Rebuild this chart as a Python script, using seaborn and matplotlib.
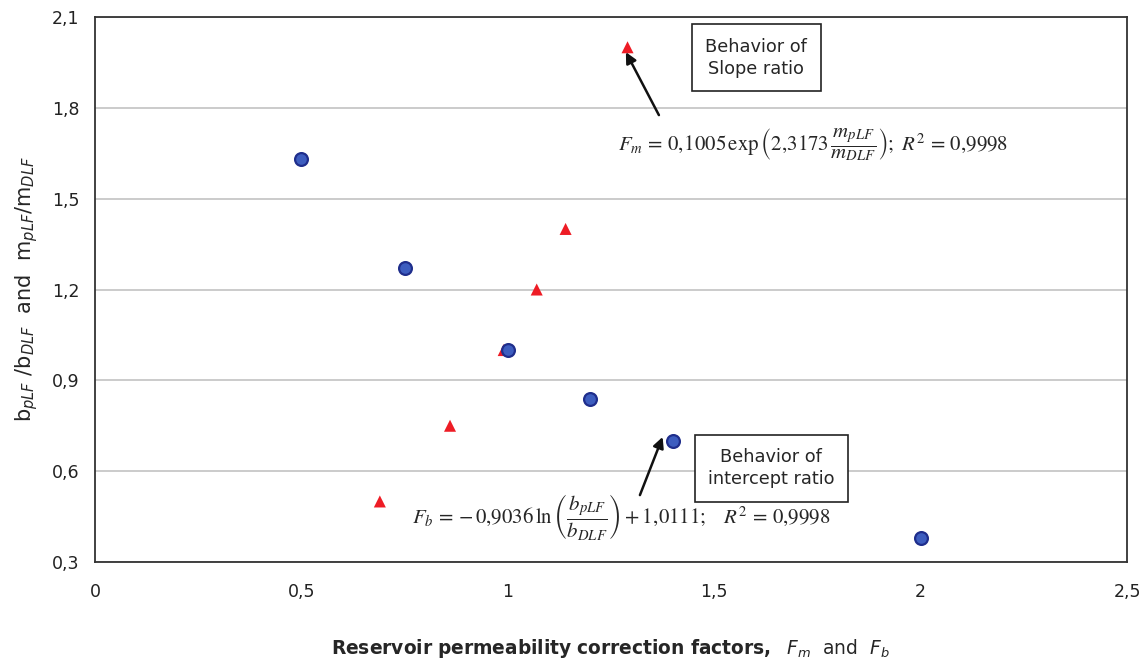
import matplotlib
matplotlib.use("Agg")
import matplotlib.pyplot as plt
import seaborn as sns
import pandas as pd

# Data
fb_x = [0.50, 0.75, 1.00, 1.20, 1.40, 2.00]      # intercept ratio correction factor F_b
fb_y = [1.63, 1.27, 1.00, 0.84, 0.70, 0.38]      # b_pLF / b_DLF
fm_x = [0.69, 0.86, 0.99, 1.07, 1.14, 1.29]      # slope ratio correction factor F_m
fm_y = [0.50, 0.75, 1.00, 1.20, 1.40, 2.00]      # m_pLF / m_DLF

x_ticks = [0, 0.5, 1, 1.5, 2, 2.5]
x_tick_labels = ["0", "0,5", "1", "1,5", "2", "2,5"]
y_ticks = [0.3, 0.6, 0.9, 1.2, 1.5, 1.8, 2.1]
y_tick_labels = ["0,3", "0,6", "0,9", "1,2", "1,5", "1,8", "2,1"]

sns.set_style("white")
plt.rcParams["font.family"] = ["DejaVu Sans"]

fig = plt.figure(figsize=(11.39, 6.64), dpi=100)
ax = fig.add_axes([0.0834, 0.1536, 0.9061, 0.8208])

df_b = pd.DataFrame({"x": fb_x, "y": fb_y})
df_m = pd.DataFrame({"x": fm_x, "y": fm_y})

sns.scatterplot(data=df_m, x="x", y="y", ax=ax, marker="^", s=75,
                color="#EE1C25", edgecolor="none", zorder=3)
sns.scatterplot(data=df_b, x="x", y="y", ax=ax, marker="o", s=85,
                color="#3D5DBF", edgecolor="#1F2E8C", linewidth=1.6, zorder=4)

ax.set_xlim(0, 2.5)
ax.set_ylim(0.3, 2.1)
ax.set_xticks(x_ticks)
ax.set_xticklabels(x_tick_labels)
ax.set_yticks(y_ticks)
ax.set_yticklabels(y_tick_labels)
ax.tick_params(axis="both", direction="out", length=6, width=1, labelsize=12.5,
               colors="#222222")
ax.tick_params(axis="y", pad=5)
ax.tick_params(axis="x", pad=9)
ax.grid(axis="y", color="#BDBDBD", linewidth=1.1)
ax.set_axisbelow(True)
for side in ["left", "bottom", "right", "top"]:
    ax.spines[side].set_visible(True)
    ax.spines[side].set_color("#333333")
    ax.spines[side].set_linewidth(1.3)

ax.set_ylabel(r"b$_{pLF}$ /b$_{DLF}$  and  m$_{pLF}$/m$_{DLF}$", fontsize=15,
              labelpad=9, math_fontfamily="dejavusans")
ax.set_xlabel(r"$\mathbf{Reservoir\ permeability\ correction\ factors,}\ \ F_m\ \ \mathrm{and}\ \ F_b$",
              fontsize=13.4, labelpad=26, math_fontfamily="dejavusans")

# Text boxes
box = dict(boxstyle="square,pad=0.75", facecolor="white", edgecolor="#222222", linewidth=1.2)
ax.text(1.602, 1.965, "Behavior of\nSlope ratio", ha="center", va="center",
        fontsize=12.8, bbox=box, linespacing=1.3)
ax.text(1.638, 0.610, "Behavior of\nintercept ratio", ha="center", va="center",
        fontsize=12.8, bbox=box, linespacing=1.3)

# Arrows
arrow = dict(arrowstyle="-|>", color="#111111", lw=1.8, mutation_scale=16,
             shrinkA=0, shrinkB=0)
ax.annotate("", xy=(1.286, 1.984), xytext=(1.366, 1.776), arrowprops=arrow)
ax.annotate("", xy=(1.375, 0.713), xytext=(1.320, 0.521), arrowprops=arrow)

# Equations
ax.text(1.267, 1.677,
        r"$F_m\,=\,0,\!1005\,\exp\left(2{,}3173\,\dfrac{m_{pLF}}{m_{DLF}}\right);\ R^2\,=\,0{,}9998$",
        ha="left", va="center", fontsize=15, math_fontfamily="stix")
ax.text(0.767, 0.450,
        r"$F_b\,=\,\mathrm{-}\,0{,}9036\,\ln\left(\dfrac{b_{pLF}}{b_{DLF}}\right)+1,\!0111;\quad R^2\,=\,0{,}9998$",
        ha="left", va="center", fontsize=15, math_fontfamily="stix")

fig.savefig("out.png", dpi=100)
